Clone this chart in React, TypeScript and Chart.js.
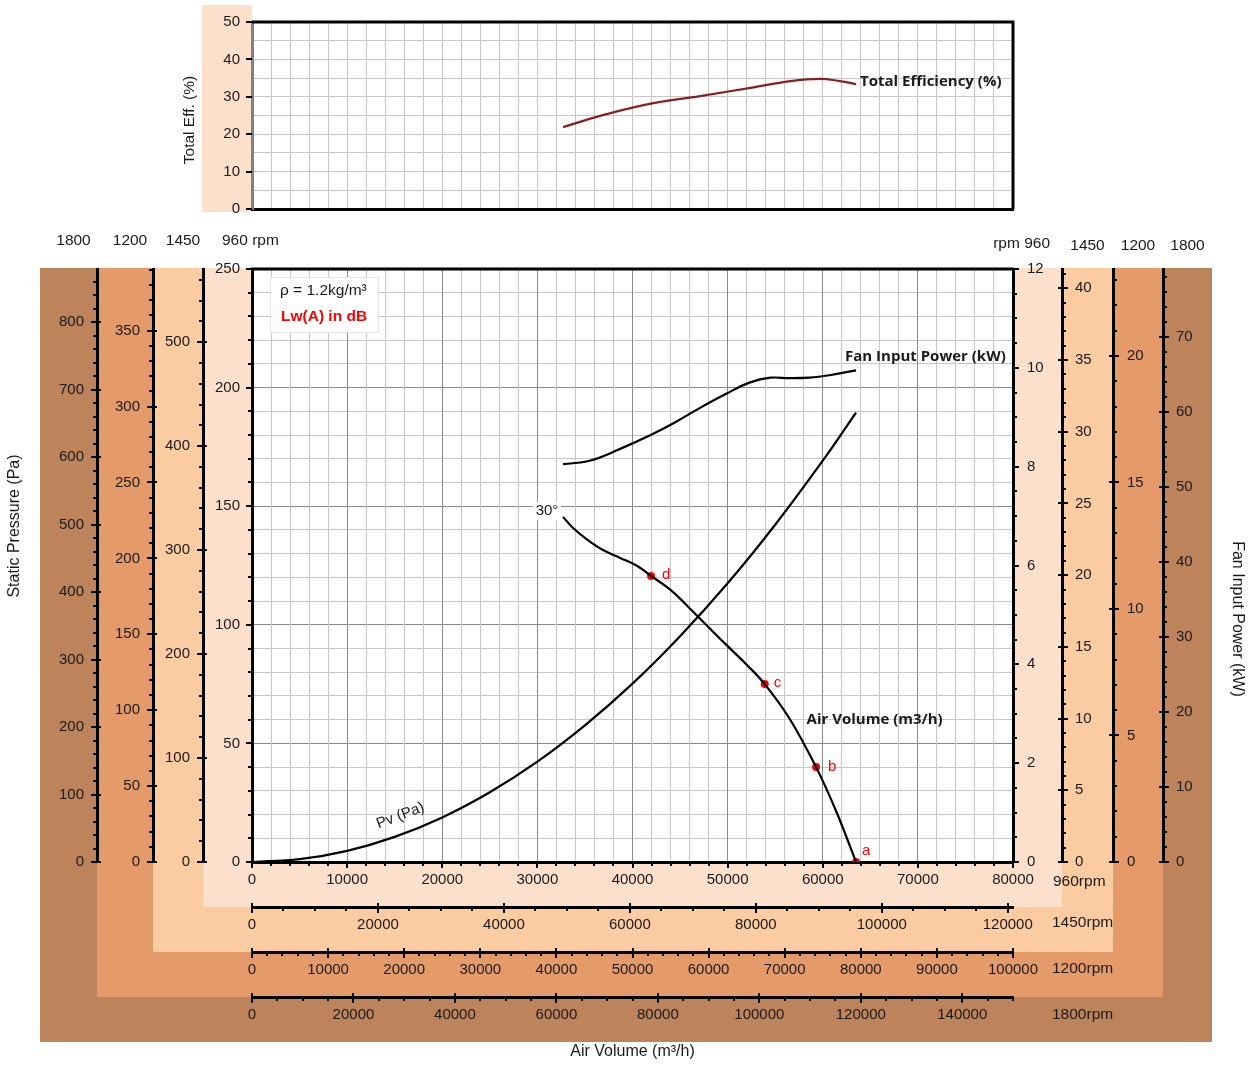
import React, { useEffect, useRef } from 'react';
import { Chart, registerables } from 'chart.js';

Chart.register(...registerables);

// ---------------- data (960 rpm base curves) ----------------
const pressureVolume = [32700, 33700, 35200, 36900, 38700, 40500, 41950, 44000, 46000, 48000, 50000, 52000, 53900, 56500, 59300, 61400, 63500];
const staticPressure = [145.5, 141, 136, 131.5, 128.2, 124.8, 120.6, 114.7, 107, 99, 91, 83.2, 75, 60.5, 40, 21.5, 0];

const dynamicVolume = [0, 5000, 10000, 15000, 20000, 25000, 30000, 35000, 40000, 45000, 50000, 55000, 60000, 63500];
const dynamicPressure = [0, 1.2, 4.7, 10.6, 18.8, 29.4, 42.3, 57.6, 75.2, 95.2, 117.5, 142.2, 169.2, 189.5];

const powerVolume = [32700, 35500, 38700, 41800, 44500, 47100, 49800, 52300, 54500, 56500, 58600, 60700, 63500];
const inputPower = [8.05, 8.12, 8.36, 8.63, 8.9, 9.19, 9.47, 9.7, 9.8, 9.79, 9.8, 9.85, 9.95];

const efficiencyVolume = [32700, 36600, 41800, 47100, 52400, 56600, 59700, 61800, 63500];
const totalEfficiency = [21.9, 24.9, 28.1, 30.2, 32.4, 34.2, 34.8, 34.2, 33.4];

const pointNames = ['a', 'b', 'c', 'd'];
const pointVolume = [63500, 59300, 53900, 41950];
const pointPressure = [0, 40, 75, 120.6];

// ---------------- axes ----------------
const BASE_RPM = 960;
const VOLUME_MAX = 80000;
const PRESSURE_MAX = 250;
const POWER_MAX = 12;
const EFF_MAX = 50;
const speeds = [960, 1450, 1200, 1800];

const pressureTicks960 = [0, 50, 100, 150, 200, 250];
const pressureTicks1450 = [0, 100, 200, 300, 400, 500];
const pressureTicks1200 = [0, 50, 100, 150, 200, 250, 300, 350];
const pressureTicks1800 = [0, 100, 200, 300, 400, 500, 600, 700, 800];
const powerTicks960 = [0, 2, 4, 6, 8, 10, 12];
const powerTicks1450 = [0, 5, 10, 15, 20, 25, 30, 35, 40];
const powerTicks1200 = [0, 5, 10, 15, 20];
const powerTicks1800 = [0, 10, 20, 30, 40, 50, 60, 70];
const volumeTicks960 = [0, 10000, 20000, 30000, 40000, 50000, 60000, 70000, 80000];
const volumeTicks1450 = [0, 20000, 40000, 60000, 80000, 100000, 120000];
const volumeTicks1200 = [0, 10000, 20000, 30000, 40000, 50000, 60000, 70000, 80000, 90000, 100000];
const volumeTicks1800 = [0, 20000, 40000, 60000, 80000, 100000, 120000, 140000];
const efficiencyTicks = [0, 10, 20, 30, 40, 50];

const LABELS: any = {
  p: { 960: pressureTicks960, 1450: pressureTicks1450, 1200: pressureTicks1200, 1800: pressureTicks1800 },
  w: { 960: powerTicks960, 1450: powerTicks1450, 1200: powerTicks1200, 1800: powerTicks1800 },
  v: { 960: volumeTicks960, 1450: volumeTicks1450, 1200: volumeTicks1200, 1800: volumeTicks1800 },
};
const MINOR: any = {
  p: { 960: 10, 1450: 20, 1200: 10, 1800: 20 },
  w: { 960: 0.5, 1450: 1, 1200: 1, 1800: 2 },
  v: { 960: 2000, 1450: 5000, 1200: 2000, 1800: 5000 },
};
const SIZE: any = {
  p: { 960: 49, 1450: 50, 1200: 56, 1800: 57 },
  w: { 960: 49, 1450: 51, 1200: 50, 1800: 49 },
  v: { 960: 45, 1450: 45, 1200: 45, 1800: 45 },
};
const PAD: any = {
  p: { 960: 12, 1450: 13, 1200: 13, 1800: 13 },
  w: { 960: 14, 1450: 13, 1200: 14, 1800: 13 },
  v: { 960: 9, 1450: 9, 1200: 9, 1800: 9 },
};
const WEIGHT: any = { 960: 0, 1450: 1, 1200: 2, 1800: 3 };
const BAND_COLOR: any = { 1800: '#BD835B', 1200: '#E49A69', 1450: '#FBCBA1', 960: '#FDE0CB' };

const W = 1248;
const H = 1065;
const FONT = '"Liberation Sans", Arial, sans-serif';
const BOLD = '"Open Sans", "Liberation Sans", sans-serif';
const TEXT = '#1a1a1a';
const GRID_MINOR = '#c6c6c6';
const GRID_MAJOR = '#8a8a8a';

Chart.defaults.font.family = FONT;
Chart.defaults.font.size = 15;
Chart.defaults.color = TEXT;

function range(step: number, max: number): number[] {
  const out: number[] = [];
  const n = Math.floor(max / step + 1e-9);
  for (let i = 0; i <= n; i++) out.push(+(i * step).toFixed(6));
  return out;
}
const isIn = (arr: number[], v: number) => arr.some((a) => Math.abs(a - v) < 1e-6);

function scaleMax(kind: string, rpm: number) {
  const r = rpm / BASE_RPM;
  if (kind === 'p') return PRESSURE_MAX * r * r;
  if (kind === 'w') return POWER_MAX * r * r * r;
  return VOLUME_MAX * r;
}

function makeScale(kind: string, rpm: number) {
  const main = rpm === BASE_RPM;
  const max = scaleMax(kind, rpm);
  const labels: number[] = LABELS[kind][rpm];
  const minor: number = MINOR[kind][rpm];
  const position = kind === 'p' ? 'left' : kind === 'w' ? 'right' : 'bottom';
  const size: number = SIZE[kind][rpm];
  const tickValues = main ? range(minor, max) : labels;
  return {
    type: 'linear',
    position,
    min: 0,
    max,
    weight: WEIGHT[rpm],
    afterBuildTicks: (s: any) => {
      s.ticks = tickValues.map((v) => ({ value: v }));
    },
    afterFit: (s: any) => {
      if (position === 'bottom') s.height = size;
      else s.width = size;
    },
    ticks: {
      autoSkip: false,
      maxRotation: 0,
      minRotation: 0,
      padding: PAD[kind][rpm],
      color: TEXT,
      font: { family: FONT, size: 15 },
      callback: (v: number) => (isIn(labels, v) ? String(v) : ''),
    },
    grid: {
      display: true,
      drawOnChartArea: main && kind !== 'w',
      drawTicks: false,
      lineWidth: 1,
      color: (c: any) => (c.tick && isIn(labels, c.tick.value) ? GRID_MAJOR : GRID_MINOR),
    },
    border: { display: true, color: '#000', width: 3 },
  };
}

function drawTicks(chart: any, specs: any[]) {
  const ctx = chart.ctx;
  ctx.save();
  ctx.strokeStyle = '#000';
  ctx.lineWidth = 2;
  for (const sp of specs) {
    const s = chart.scales[sp.id];
    if (!s) continue;
    const pos = s.options.position;
    for (const v of range(sp.minor, s.max)) {
      const major = isIn(sp.labels, v);
      const out = major ? sp.majorOut : sp.minorOut;
      const inn = major ? sp.majorIn : 0;
      const p = Math.round(s.getPixelForValue(v));
      ctx.beginPath();
      if (pos === 'left') {
        ctx.moveTo(s.right - out, p);
        ctx.lineTo(s.right + inn, p);
      } else if (pos === 'right') {
        ctx.moveTo(s.left - inn, p);
        ctx.lineTo(s.left + out, p);
      } else {
        ctx.moveTo(p, s.top - inn);
        ctx.lineTo(p, s.top + out);
      }
      ctx.stroke();
    }
  }
  ctx.restore();
}

function txt(ctx: any, s: string, x: number, y: number, font: string, color = TEXT, align = 'left', rot = 0) {
  ctx.save();
  ctx.font = font;
  ctx.fillStyle = color;
  ctx.textAlign = align;
  ctx.textBaseline = 'middle';
  ctx.translate(x, y);
  if (rot) ctx.rotate(rot);
  ctx.fillText(s, 0, 0);
  ctx.restore();
}

function mainConfig(): any {
  const scales: any = {};
  for (const rpm of speeds) {
    scales['p' + rpm] = makeScale('p', rpm);
    scales['w' + rpm] = makeScale('w', rpm);
    scales['v' + rpm] = makeScale('v', rpm);
  }
  const tickSpecs: any[] = [];
  for (const rpm of speeds) {
    const main = rpm === BASE_RPM;
    for (const kind of ['p', 'w', 'v']) {
      tickSpecs.push({
        id: kind + rpm,
        minor: MINOR[kind][rpm],
        labels: LABELS[kind][rpm],
        majorOut: 6,
        majorIn: main ? 0 : 4,
        minorOut: 4,
      });
    }
  }

  const bandPlugin = {
    id: 'bands',
    beforeDraw(chart: any) {
      const ctx = chart.ctx;
      const ca = chart.chartArea;
      const sc = chart.scales;
      ctx.save();
      for (const rpm of [1800, 1200, 1450, 960]) {
        const l = sc['p' + rpm].left;
        const r = sc['w' + rpm].right;
        const b = sc['v' + rpm].bottom;
        ctx.fillStyle = BAND_COLOR[rpm];
        ctx.fillRect(l, ca.top - 1, r - l, b - ca.top + 1);
      }
      ctx.fillStyle = '#ffffff';
      ctx.fillRect(ca.left, ca.top, ca.right - ca.left, ca.bottom - ca.top);
      ctx.restore();
    },
  };

  const annotPlugin = {
    id: 'annot',
    afterDraw(chart: any) {
      const ctx = chart.ctx;
      const ca = chart.chartArea;
      const sc = chart.scales;
      drawTicks(chart, tickSpecs);

      // top border of plot
      ctx.save();
      ctx.strokeStyle = '#000';
      ctx.lineWidth = 3;
      ctx.beginPath();
      ctx.moveTo(ca.left - 1, ca.top);
      ctx.lineTo(ca.right + 1, ca.top);
      ctx.stroke();
      ctx.restore();

      const f15 = `15.5px ${FONT}`;
      // rpm headers
      for (const rpm of [1800, 1200, 1450]) {
        const s = sc['p' + rpm];
        txt(ctx, String(rpm), (s.left + s.right) / 2 + 5, ca.top - 28, f15, TEXT, 'center');
      }
      txt(ctx, '960 rpm', sc.p960.left + 19, ca.top - 28, f15);
      txt(ctx, 'rpm 960', sc.w960.left + 37, ca.top - 25, f15, TEXT, 'right');
      for (const rpm of [1450, 1200, 1800]) {
        const s = sc['w' + rpm];
        txt(ctx, String(rpm), (s.left + s.right) / 2, ca.top - 23, f15, TEXT, 'center');
      }
      // rpm labels for bottom axes
      const xr = sc.w960.right - 10;
      txt(ctx, '960rpm', xr + 1, sc.v960.top + 20, f15);
      txt(ctx, '1450rpm', xr, sc.v1450.top + 16, f15);
      txt(ctx, '1200rpm', xr, sc.v1200.top + 17, f15);
      txt(ctx, '1800rpm', xr, sc.v1800.top + 18, f15);

      // axis titles
      txt(ctx, 'Static Pressure (Pa)', 15, 526, `16px ${FONT}`, TEXT, 'center', -Math.PI / 2);
      txt(ctx, 'Fan Input Power (kW)', 1237, 619, `16px ${FONT}`, TEXT, 'center', Math.PI / 2);
      txt(ctx, 'Air Volume (m³/h)', (ca.left + ca.right) / 2, sc.v1800.bottom + 10, `16px ${FONT}`, TEXT, 'center');

      // info box
      ctx.save();
      ctx.fillStyle = '#fff';
      ctx.strokeStyle = '#e4e4e4';
      ctx.lineWidth = 1;
      ctx.fillRect(ca.left + 18, ca.top + 8, 108, 55);
      ctx.strokeRect(ca.left + 18.5, ca.top + 8.5, 108, 55);
      ctx.restore();
      txt(ctx, 'ρ = 1.2kg/m³', ca.left + 28, ca.top + 22, `15.5px ${FONT}`);
      txt(ctx, 'Lw(A) in dB', ca.left + 29, ca.top + 48, `bold 15.5px ${FONT}`, '#ff0000');

      const X = sc.v960;
      const P = sc.p960;
      // 30° label
      {
        const x = X.getPixelForValue(31010);
        const y = P.getPixelForValue(148);
        ctx.save();
        ctx.fillStyle = '#fff';
        ctx.fillRect(x - 14, y - 9, 28, 18);
        ctx.restore();
        txt(ctx, '30°', x, y, `15px ${FONT}`, TEXT, 'center');
      }
      // Pv label
      txt(ctx, 'Pv (Pa)', X.getPixelForValue(15600), P.getPixelForValue(19.5), `15px ${FONT}`, TEXT, 'center', -0.36);
      // curve labels
      txt(ctx, 'Air Volume (m3/h)', X.getPixelForValue(58300), P.getPixelForValue(60), `bold 15px ${BOLD}`);
      {
        const meta = chart.getDatasetMeta(2);
        const last = meta.data[meta.data.length - 1];
        txt(ctx, 'Fan Input Power (kW)', last.x - 11, last.y - 14, `bold 15px ${BOLD}`);
      }
      // operating point labels
      const offs: any = { a: [6, -11], b: [12, 0], c: [9, -1], d: [11, -1] };
      const pm = chart.getDatasetMeta(3);
      pm.data.forEach((pt: any, i: number) => {
        const n = pointNames[i];
        txt(ctx, n, pt.x + offs[n][0], pt.y + offs[n][1], `15px ${FONT}`, '#ff0000');
      });
    },
  };

  const curve = (label: string, xs: number[], ys: number[], yAxisID: string) => ({
    label,
    data: xs.map((x, i) => ({ x, y: ys[i] })),
    xAxisID: 'v960',
    yAxisID,
    borderColor: '#000',
    borderWidth: 2.2,
    pointRadius: 0,
    tension: 0.4,
  });

  return {
    type: 'line',
    data: {
      datasets: [
        curve('Static Pressure', pressureVolume, staticPressure, 'p960'),
        curve('Pv (Pa)', dynamicVolume, dynamicPressure, 'p960'),
        curve('Fan Input Power (kW)', powerVolume, inputPower, 'w960'),
        {
          label: 'Points',
          data: pointVolume.map((x, i) => ({ x, y: pointPressure[i] })),
          xAxisID: 'v960',
          yAxisID: 'p960',
          showLine: false,
          pointRadius: 4,
          pointBackgroundColor: '#ff0000',
          pointBorderColor: '#ff0000',
          pointBorderWidth: 0,
        },
      ],
    },
    options: {
      responsive: false,
      animation: false,
      events: [],
      layout: { padding: { left: 40, right: 36, top: 269, bottom: 23 } },
      plugins: { legend: { display: false }, tooltip: { enabled: false } },
      scales,
    },
    plugins: [bandPlugin, annotPlugin],
  };
}

function effConfig(): any {
  const xGrid = range(2000, VOLUME_MAX);
  const yGrid = range(5, EFF_MAX);
  const plugin = {
    id: 'effDeco',
    beforeDraw(chart: any) {
      const ctx = chart.ctx;
      const ca = chart.chartArea;
      const y = chart.scales.y;
      ctx.save();
      ctx.fillStyle = BAND_COLOR[960];
      ctx.fillRect(y.left, ca.top - 17, y.right - y.left, ca.bottom - ca.top + 20);
      ctx.fillStyle = '#fff';
      ctx.fillRect(ca.left, ca.top, ca.right - ca.left, ca.bottom - ca.top);
      ctx.restore();
    },
    afterDraw(chart: any) {
      const ctx = chart.ctx;
      const ca = chart.chartArea;
      const y = chart.scales.y;
      ctx.save();
      ctx.strokeStyle = '#000';
      ctx.lineWidth = 3;
      ctx.beginPath();
      ctx.moveTo(ca.left, ca.top);
      ctx.lineTo(ca.right, ca.top);
      ctx.lineTo(ca.right, ca.bottom);
      ctx.stroke();
      ctx.lineWidth = 2;
      for (const v of efficiencyTicks) {
        const p = Math.round(y.getPixelForValue(v));
        ctx.beginPath();
        ctx.moveTo(y.right - 6, p);
        ctx.lineTo(y.right, p);
        ctx.stroke();
      }
      ctx.restore();
      txt(ctx, 'Total Eff. (%)', 190, 120, `15.5px ${FONT}`, TEXT, 'center', -Math.PI / 2);
      const meta = chart.getDatasetMeta(0);
      const last = meta.data[meta.data.length - 1];
      txt(ctx, 'Total Efficiency (%)', last.x + 4, last.y - 2, `bold 15px ${BOLD}`);
    },
  };
  return {
    type: 'line',
    data: {
      datasets: [
        {
          label: 'Total Efficiency (%)',
          data: efficiencyVolume.map((x, i) => ({ x, y: totalEfficiency[i] })),
          borderColor: '#8a1f1f',
          borderWidth: 2.2,
          pointRadius: 0,
          tension: 0.4,
        },
      ],
    },
    options: {
      responsive: false,
      animation: false,
      events: [],
      layout: { padding: { left: 202, right: 235, top: 22, bottom: 23 } },
      plugins: { legend: { display: false }, tooltip: { enabled: false } },
      scales: {
        x: {
          type: 'linear',
          min: 0,
          max: VOLUME_MAX,
          afterBuildTicks: (s: any) => {
            s.ticks = xGrid.map((v) => ({ value: v }));
          },
          afterFit: (s: any) => {
            s.height = 0;
          },
          ticks: { display: false, autoSkip: false },
          grid: { drawTicks: false, color: GRID_MINOR, lineWidth: 1 },
          border: { display: true, color: '#000', width: 3 },
        },
        y: {
          type: 'linear',
          min: 0,
          max: EFF_MAX,
          afterBuildTicks: (s: any) => {
            s.ticks = yGrid.map((v) => ({ value: v }));
          },
          afterFit: (s: any) => {
            s.width = 50;
          },
          ticks: {
            autoSkip: false,
            padding: 12,
            color: TEXT,
            font: { family: FONT, size: 15 },
            callback: (v: number) => (isIn(efficiencyTicks, v) ? String(v) : ''),
          },
          grid: { drawTicks: false, color: GRID_MINOR, lineWidth: 1 },
          border: { display: true, color: '#808080', width: 3 },
        },
      },
    },
    plugins: [plugin],
  };
}

export default function App() {
  const effRef = useRef<HTMLCanvasElement>(null);
  const mainRef = useRef<HTMLCanvasElement>(null);
  useEffect(() => {
    const main = new Chart(mainRef.current as HTMLCanvasElement, mainConfig());
    const eff = new Chart(effRef.current as HTMLCanvasElement, effConfig());
    return () => {
      main.destroy();
      eff.destroy();
    };
  }, []);
  return (
    <div style={{ position: 'absolute', left: 0, top: 0, width: W, height: H, background: '#fff' }}>
      <canvas ref={mainRef} width={W} height={H} style={{ position: 'absolute', left: 0, top: 0 }} />
      <canvas ref={effRef} width={W} height={232} style={{ position: 'absolute', left: 0, top: 0 }} />
    </div>
  );
}
